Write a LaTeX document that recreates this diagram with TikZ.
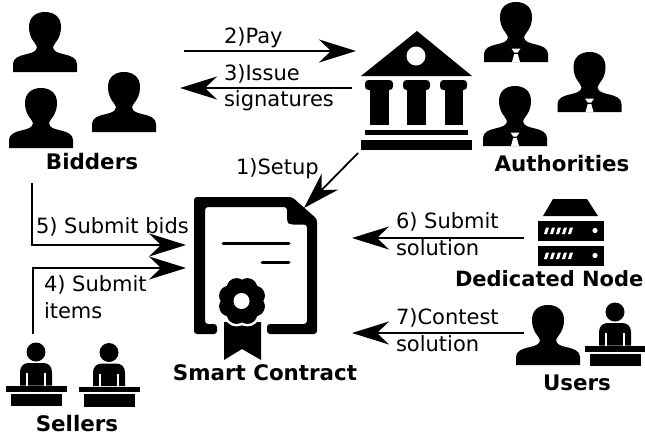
\documentclass[tikz,border=0pt]{standalone}
\usepackage{fontspec}
\setmainfont{DejaVu Sans}
\usetikzlibrary{arrows.meta}
\tikzset{
  flow/.style={draw=black,line width=1.8pt,-{Stealth[length=37pt,width=23pt,inset=12pt,fill=black]}},
  lbl/.style={font=\fontsize{21}{25}\selectfont,anchor=base west,inner sep=0pt,outer sep=0pt},
  ttl/.style={font=\fontsize{21.4}{25}\selectfont\bfseries,anchor=base,inner sep=0pt,outer sep=0pt},
  person/.pic={
    \fill[black] (-32,60) -- (-32,52) .. controls (-32,46) and (-26,44) .. (-20,42.5)
      .. controls (-14,41) and (-8,40) .. (-8,35)
      .. controls (-9,31) and (-16,27) .. (-16,15)
      .. controls (-16,5) and (-9,0) .. (0,0)
      .. controls (9,0) and (16,5) .. (16,15)
      .. controls (16,27) and (9,31) .. (8,35)
      .. controls (8,40) and (14,41) .. (20,42.5)
      .. controls (26,44) and (32,46) .. (32,52) -- (32,60) -- cycle;
  },
  suit/.pic={
    \pic at (0,0) {person};
    \fill[white] (-4.5,46.5) -- (4.5,46.5) -- (1.8,50.5) -- (-1.8,50.5) -- cycle;
    \fill[white] (-1.8,52) -- (1.8,52) -- (4,60) -- (-4,60) -- cycle;
  },
  clerk/.pic={
    \fill[black] (0,0) circle[radius=9.5pt];
    \fill[black] (-16,33.5) -- (-16,20) .. controls (-16,14) and (-12,11) .. (-7,11)
      -- (7,11) .. controls (12,11) and (16,14) .. (16,20) -- (16,33.5) -- cycle;
    \fill[white] (-10,21) rectangle (-8,33.5);
    \fill[white] (8,21) rectangle (10,33.5);
    \fill[black] (-30.5,34) rectangle (30.5,39.5);
    \fill[black] (-25.5,41.5) rectangle (26,54);
  },
}
\begin{document}
\begin{tikzpicture}[x=1pt,y=-1pt,line cap=butt]
\useasboundingbox (0,0) rectangle (645,437);
% Bidders
\pic at (45,12) {person};
\pic at (41,88) {person};
\pic at (124,72) {person};
\node[ttl] (bidders) at (92,169) {Bidders};
% Authorities
\pic at (516,2) {suit};
\pic at (589.5,52) {suit};
\pic at (515,86) {suit};
\node[ttl] (authorities) at (562,171) {Authorities};
% Bank
\fill[black] (417,31) -- (472,76) -- (361,76) -- cycle;
\fill[white] (416,56) circle[radius=9.5pt];
\foreach \a/\b/\c/\d in {365/393/370/389,403/430/407/426,440/467/445/463}{
  \fill[black,rounded corners=3.5pt] (\a,80) rectangle (\b,90);
  \fill[black] (\c,87) rectangle (\d,125);
}
\fill[black] (365,130) rectangle (468,135);
\fill[black] (361,140) rectangle (472,150);
% Contract
\fill[black,rounded corners=3pt]
  (217,334) -- (194,334) -- (194,197) -- (292,197) -- (317,219) -- (317,334) -- (267,334)
  -- (267,324) -- (307,324) -- (307,224.5) -- (290,224.5) -- (287,222) -- (287,207)
  -- (205,207) -- (205,324) -- (217,324) -- cycle;
\draw[black,line width=3pt,line cap=round] (223,243) -- (289,243);
\draw[black,line width=3pt,line cap=round] (262,262) -- (289,262);
\fill[black] (224,322) -- (261,322) -- (261,360) -- (242,349) -- (224,360) -- cycle;
\foreach \t in {22.5,67.5,...,337.5}{\fill[white] (242,301) ++(\t:14pt) circle[radius=12.5pt];}
\foreach \t in {22.5,67.5,...,337.5}{\fill[black] (242,301) ++(\t:14pt) circle[radius=10pt];}
\fill[black] (242,301) circle[radius=15pt];
\fill[white] (241.5,301) circle[radius=8pt];
\node[ttl] (contract) at (265,380) {Smart Contract};
% Server
\fill[black] (553,199) -- (587,199) -- (598,216) -- (543,216) -- cycle;
\foreach \y in {221,246}{
  \fill[black] (538,\y) rectangle (604,\y+19.5);
  \foreach \x in {544,550,556,562,568}{
    \fill[white] (\x,\y+13) -- (\x+3,\y+13) -- (\x+5,\y+6.5) -- (\x+2,\y+6.5) -- cycle;
  }
  \fill[white] (595,\y+9.5) circle[radius=2.6pt];
}
\node[ttl,anchor=base west,font=\fontsize{21}{25}\selectfont\bfseries] (node) at (455,286) {Dedicated Node};
% Users
\pic at (548,305) {person};
\pic at (615,312) {clerk};
\node[ttl] (users) at (577,390) {Users};
% Sellers
\pic at (36,352) {clerk};
\pic at (109,352.5) {clerk};
\node[ttl] (sellers) at (77,431) {Sellers};
% Endpoints
\coordinate (payS) at (184,51);
\coordinate (payE) at (356,51);
\coordinate (issS) at (352,88);
\coordinate (issE) at (180,88);
\coordinate (setS) at (358,153);
\coordinate (setE) at (304,208);
\coordinate (bidS) at (32,183);
\coordinate (bidM) at (32,245);
\coordinate (bidE) at (186,245);
\coordinate (itmS) at (33,334);
\coordinate (itmM) at (33,268);
\coordinate (itmE) at (186,268);
\coordinate (solS) at (524,238);
\coordinate (solE) at (352,238);
\coordinate (conS) at (524,333);
\coordinate (conE) at (352,333);
\draw[flow] (payS) -- (payE);
\draw[flow] (issS) -- (issE);
\draw[flow] (setS) -- (setE);
\draw[flow] (bidS) -- (bidM) -- (bidE);
\draw[flow] (itmS) -- (itmM) -- (itmE);
\draw[flow] (solS) -- (solE);
\draw[flow] (conS) -- (conE);
% Labels
\node[lbl] (t2) at (224,43) {2)Pay};
\node[lbl] (t3) at (224,80) {3)Issue};
\node[lbl] (t3b) at (224,106) {signatures};
\node[lbl] (t1) at (236,174) {1)Setup};
\node[lbl] (t5) at (36,233) {5) Submit bids};
\node[lbl] (t4) at (44,291) {4) Submit};
\node[lbl] (t4b) at (44,318) {items};
\node[lbl] (t6) at (396,228) {6) Submit};
\node[lbl] (t6b) at (396,255) {solution};
\node[lbl] (t7) at (396,324) {7)Contest};
\node[lbl] (t7b) at (396,351) {solution};
\end{tikzpicture}
\end{document}
